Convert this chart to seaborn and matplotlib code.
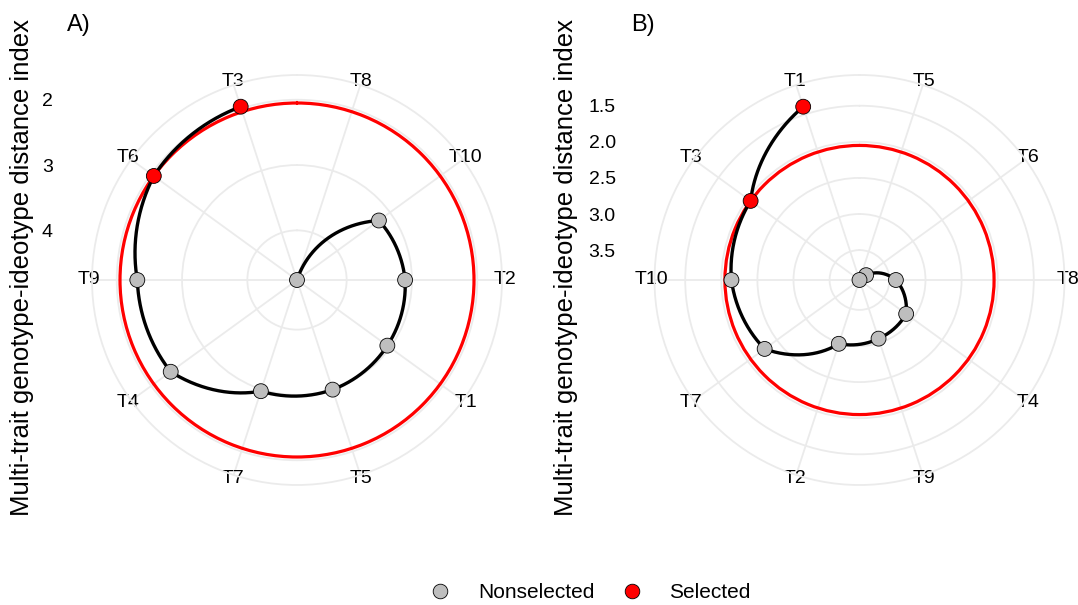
import numpy as np
import matplotlib
matplotlib.use("Agg")
import matplotlib.pyplot as plt
from matplotlib.lines import Line2D
import seaborn as sns

# MGIDI values, sorted ascending (best genotype first)
genotypes_a = ["T3", "T6", "T9", "T4", "T7", "T5", "T1", "T2", "T10", "T8"]
mgidi_a = [1.97, 2.05, 2.315, 2.37, 2.97, 2.995, 3.05, 3.105, 3.21, 4.76]
ticks_a = [2, 3, 4]
tick_labels_a = ["2", "3", "4"]

genotypes_b = ["T1", "T3", "T10", "T7", "T2", "T9", "T4", "T8", "T6", "T5"]
mgidi_b = [1.39, 2.05, 2.14, 2.29, 2.985, 3.06, 3.115, 3.41, 3.80, 3.914]
ticks_b = [1.5, 2.0, 2.5, 3.0, 3.5]
tick_labels_b = ["1.5", "2.0", "2.5", "3.0", "3.5"]

n_selected = 2
panel_titles = ["A)", "B)"]
ylabel = "Multi-trait genotype-ideotype distance index"
legend_labels = ["Nonselected", "Selected"]

COL_NONSEL = "#BEBEBE"
COL_SEL = "#FF0000"
GRID = "#EBEBEB"

sns.set_style("white")
plt.rcParams["font.family"] = ["Liberation Sans", "DejaVu Sans"]
plt.rcParams.update({
    "text.color": "black",
    "axes.labelcolor": "black",
    "xtick.color": "black",
    "ytick.color": "black",
})

W, H = 1078, 605
fig = plt.figure(figsize=(W / 100, H / 100), dpi=100)


def px_box(left, top, width, height):
    return [left / W, 1 - (top + height) / H, width / W, height / H]


def draw_panel(genos, vals, ticks, tick_labels, cx, cy, radius, tick_x, label_x, title, title_xy):
    n = len(genos)
    vals = np.asarray(vals)
    # position on the circle: reorder(Genotype, -MGIDI) -> largest first
    theta = (n - np.arange(n) - 0.5) * 2 * np.pi / n
    sel = np.where(np.arange(n) < n_selected, "Selected", "Nonselected")
    cut = vals[:n_selected].max()

    vmin, vmax = vals.min(), vals.max()
    outer = vmax - (vmax - vmin) * 0.45 / 0.4

    ax = fig.add_axes(px_box(cx - radius, cy - radius, 2 * radius, 2 * radius),
                      projection="polar")
    ax.set_theta_zero_location("N")
    ax.set_theta_direction(-1)

    # cutpoint circle
    ax.plot([0, 2 * np.pi], [cut, cut], color=COL_SEL, lw=2.3, zorder=2)
    ax.lines[-1].get_path()._interpolation_steps = 100

    sns.lineplot(x=theta, y=vals, sort=False, estimator=None, color="black",
                 lw=2.4, ax=ax, zorder=3)
    ax.lines[-1].get_path()._interpolation_steps = 100

    sns.scatterplot(x=theta, y=vals, hue=sel,
                    palette={"Nonselected": COL_NONSEL, "Selected": COL_SEL},
                    s=115, edgecolor="black", linewidth=0.6, legend=False,
                    ax=ax, zorder=4)

    ax.set_xlabel("")
    ax.set_ylabel("")
    ax.set_xticks(theta)
    ax.set_xticklabels(genos)
    ax.set_ylim(vmax, outer)
    ax.set_yticks(ticks)
    ax.set_yticklabels([])
    ax.grid(True, color=GRID, lw=1.3)
    ax.spines["polar"].set_color(GRID)
    ax.spines["polar"].set_linewidth(1.3)
    ax.tick_params(axis="x", pad=-4.5, labelsize=14, length=0)
    ax.tick_params(axis="y", length=0)
    for line in ax.lines:
        line.set_clip_on(False)
    for coll in ax.collections:
        coll.set_clip_on(False)

    # radial axis labels, placed at the left like coord_polar does
    ay = fig.add_axes(px_box(tick_x, cy - radius, 1, 2 * radius))
    ay.set_ylim(2 * vmax - outer, outer)
    ay.set_yticks(ticks)
    ay.set_yticklabels(tick_labels)
    ay.set_xticks([])
    for s in ay.spines.values():
        s.set_visible(False)
    ay.patch.set_visible(False)
    ay.tick_params(axis="y", length=0, pad=3, labelsize=14)
    ay.set_ylabel(ylabel, fontsize=18.5)
    ay.yaxis.set_label_coords(label_x / W, 1 - 268 / H, transform=fig.transFigure)

    fig.text(title_xy[0] / W, 1 - title_xy[1] / H, title, ha="left", va="top",
             fontsize=17)


draw_panel(genotypes_a, mgidi_a, ticks_a, tick_labels_a, 297, 280, 205, 57, 34,
           panel_titles[0], (67, 14))
draw_panel(genotypes_b, mgidi_b, ticks_b, tick_labels_b, 859.5, 280, 205, 620, 578,
           panel_titles[1], (631, 14))

handles = [
    Line2D([], [], marker="o", ls="none", markerfacecolor=COL_NONSEL,
           markeredgecolor="black", markeredgewidth=0.6, markersize=10.5,
           label=legend_labels[0]),
    Line2D([], [], marker="o", ls="none", markerfacecolor=COL_SEL,
           markeredgecolor="black", markeredgewidth=0.6, markersize=10.5,
           label=legend_labels[1]),
]
fig.legend(handles=handles, loc="center", bbox_to_anchor=(585 / W, 1 - 593 / H),
           ncol=2, frameon=False, fontsize=15, handletextpad=0.8,
           columnspacing=0.8)

fig.savefig("out.png", dpi=100)
